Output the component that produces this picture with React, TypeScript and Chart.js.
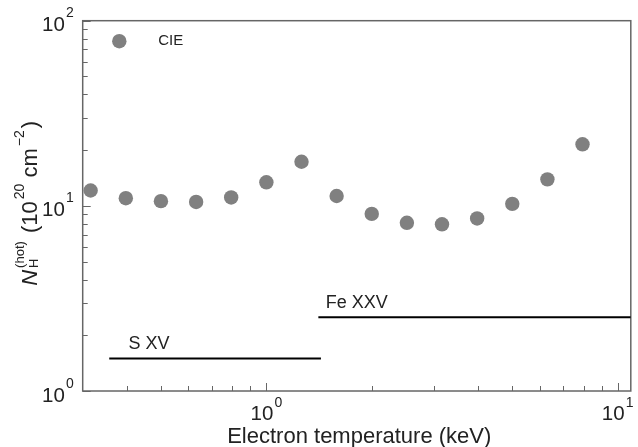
import React, { useEffect, useRef } from "react";
import { Chart, registerables } from "chart.js";

Chart.register(...registerables);

// Electron temperature (keV) of each CIE point
const temperatures = [0.316, 0.398, 0.501, 0.631, 0.794, 1.0, 1.259, 1.585, 1.995, 2.512, 3.162, 3.981, 5.012, 6.31, 7.943];
// N_H(hot) in 10^20 cm^-2
const columnDensities = [12.1, 11.0, 10.6, 10.5, 11.1, 13.4, 17.3, 11.3, 9.05, 8.1, 7.95, 8.55, 10.25, 13.9, 21.5];

// Ion ranges (horizontal bars)
const ionNames = ["S XV", "Fe XXV"];
const ionLevel = [1.5, 2.5];
const ionStart = [0.357, 1.406];
const ionEnd = [1.43, 10.9];
const ionLabelX = [0.405, 1.475];

const xMajorTicks = [1, 10];
const xMinorTicks = [0.4, 0.5, 0.6, 0.7, 0.8, 0.9, 2, 3, 4, 5, 6, 7, 8, 9];
const yMajorTicks = [1, 10, 100];
const yMinorTicks = [2, 3, 4, 5, 6, 7, 8, 9, 20, 30, 40, 50, 60, 70, 80, 90];
const xTickExponents = [0, 1];
const yTickExponents = [0, 1, 2];

const legendLabel = "CIE";
const xTitle = "Electron temperature (keV)";

const FONT = "'Liberation Sans', Arial, Helvetica, sans-serif";
const POINT_COLOR = "#808080";
const AXIS_COLOR = "#666666";
const TEXT_COLOR = "#222222";

function drawPow(ctx: CanvasRenderingContext2D, x: number, baseline: number, exp: string, align: "center" | "right", supRise: number) {
  ctx.font = `20.5px ${FONT}`;
  const wMain = ctx.measureText("10").width;
  ctx.font = `14px ${FONT}`;
  const wSup = ctx.measureText(exp).width;
  const total = wMain + 1 + wSup;
  const left = align === "center" ? x - total / 2 : x - total;
  ctx.textAlign = "left";
  ctx.textBaseline = "alphabetic";
  ctx.font = `20.5px ${FONT}`;
  ctx.fillText("10", left, baseline);
  ctx.font = `14px ${FONT}`;
  ctx.fillText(exp, left + wMain + 1, baseline - supRise);
}

const decorPlugin = {
  id: "decor",
  beforeDatasetsDraw(chart: any) {
    const { ctx, chartArea } = chart;
    const xs = chart.scales.x;
    const ys = chart.scales.y;
    ctx.save();
    ctx.strokeStyle = AXIS_COLOR;
    ctx.lineWidth = 1;
    ctx.beginPath();
    for (const v of xMajorTicks) {
      const px = Math.round(xs.getPixelForValue(v)) + 0.5;
      ctx.moveTo(px, chartArea.bottom);
      ctx.lineTo(px, chartArea.bottom - 8);
    }
    for (const v of xMinorTicks) {
      const px = Math.round(xs.getPixelForValue(v)) + 0.5;
      ctx.moveTo(px, chartArea.bottom);
      ctx.lineTo(px, chartArea.bottom - 5);
    }
    for (const v of yMajorTicks) {
      const py = Math.round(ys.getPixelForValue(v)) + 0.5;
      ctx.moveTo(chartArea.left, py);
      ctx.lineTo(chartArea.left + 8, py);
    }
    for (const v of yMinorTicks) {
      const py = Math.round(ys.getPixelForValue(v)) + 0.5;
      ctx.moveTo(chartArea.left, py);
      ctx.lineTo(chartArea.left + 5, py);
    }
    ctx.stroke();
    ctx.lineWidth = 1.5;
    ctx.strokeRect(chartArea.left, chartArea.top, chartArea.right - chartArea.left, chartArea.bottom - chartArea.top);
    ctx.restore();
  },
  afterDraw(chart: any) {
    const { ctx, chartArea } = chart;
    const xs = chart.scales.x;
    const ys = chart.scales.y;
    ctx.save();
    ctx.fillStyle = TEXT_COLOR;

    // x tick labels
    xMajorTicks.forEach((v, i) => {
      drawPow(ctx, xs.getPixelForValue(v), chartArea.bottom + 28.5, String(xTickExponents[i]), "center", 13);
    });
    // y tick labels
    yMajorTicks.forEach((v, i) => {
      drawPow(ctx, chartArea.left - 9, ys.getPixelForValue(v) + 10.5, String(yTickExponents[i]), "right", 14);
    });

    // x title
    ctx.font = `22px ${FONT}`;
    ctx.textAlign = "center";
    ctx.textBaseline = "alphabetic";
    ctx.fillText(xTitle, (chartArea.left + chartArea.right) / 2 + 2.5, 443);

    // y title (rotated)
    const cy = (chartArea.top + chartArea.bottom) / 2 - 2.5;
    const big = `22px ${FONT}`;
    const bigIt = `italic 22px ${FONT}`;
    const sub = `13px ${FONT}`;
    const sup = `14px ${FONT}`;
    ctx.font = bigIt;
    const wN = ctx.measureText("N").width;
    ctx.font = sub;
    const wH = ctx.measureText("H").width;
    const wHot = ctx.measureText("(hot)").width;
    const wStack = Math.max(wH, wHot);
    ctx.font = big;
    const w1 = ctx.measureText(" (10").width;
    ctx.font = sup;
    const w2 = ctx.measureText("20").width;
    ctx.font = big;
    const w3 = ctx.measureText(" cm").width;
    ctx.font = sup;
    const w4 = ctx.measureText("\u22122").width;
    ctx.font = big;
    const w5 = ctx.measureText(")").width;
    const gap = 2;
    const total = wN + gap + wStack + gap + w1 + gap + w2 + w3 + gap + w4 + gap + w5;
    ctx.translate(37, cy);
    ctx.rotate(-Math.PI / 2);
    ctx.textAlign = "left";
    let x = -total / 2;
    ctx.font = bigIt;
    ctx.fillText("N", x, 0);
    x += wN + gap;
    ctx.font = sub;
    ctx.fillText("H", x, 1);
    ctx.fillText("(hot)", x, -13.5);
    x += wStack + gap;
    ctx.font = big;
    ctx.fillText(" (10", x, 0);
    x += w1 + gap;
    ctx.font = sup;
    ctx.fillText("20", x, -13.5);
    x += w2;
    ctx.font = big;
    ctx.fillText(" cm", x, 0);
    x += w3 + gap;
    ctx.font = sup;
    ctx.fillText("\u22122", x, -13.5);
    x += w4 + gap;
    ctx.font = big;
    ctx.fillText(")", x, 0);
    ctx.restore();

    // legend
    ctx.save();
    ctx.fillStyle = POINT_COLOR;
    ctx.beginPath();
    ctx.arc(chartArea.left + 36.6, chartArea.top + 20.5, 7.2, 0, Math.PI * 2);
    ctx.fill();
    ctx.fillStyle = TEXT_COLOR;
    ctx.font = `15px ${FONT}`;
    ctx.textAlign = "left";
    ctx.textBaseline = "middle";
    ctx.fillText(legendLabel, chartArea.left + 75.5, chartArea.top + 20.5);

    // ion labels
    ctx.font = `18px ${FONT}`;
    ctx.textBaseline = "middle";
    ionNames.forEach((name, i) => {
      ctx.fillText(name, xs.getPixelForValue(ionLabelX[i]), ys.getPixelForValue(ionLevel[i]) - 14.5);
    });
    ctx.restore();
  },
};

export default function App() {
  const canvasRef = useRef<HTMLCanvasElement | null>(null);

  useEffect(() => {
    const canvas = canvasRef.current;
    if (!canvas) return;
    const lineSets = ionNames.map((name, i) => ({
      type: "line" as const,
      label: name,
      data: [
        { x: ionStart[i], y: ionLevel[i] },
        { x: ionEnd[i], y: ionLevel[i] },
      ],
      borderColor: "#000000",
      borderWidth: 2,
      pointRadius: 0,
      showLine: true,
      fill: false,
    }));
    const chart = new Chart(canvas, {
      type: "scatter",
      data: {
        datasets: [
          {
            label: legendLabel,
            data: temperatures.map((t, i) => ({ x: t, y: columnDensities[i] })),
            backgroundColor: POINT_COLOR,
            borderWidth: 0,
            pointRadius: 7.2,
            pointHoverRadius: 7.2,
          },
          ...(lineSets as any[]),
        ],
      },
      options: {
        responsive: false,
        animation: false,
        events: [],
        layout: { padding: { left: 82.7, top: 20.7, right: 2.5, bottom: 56 } },
        plugins: {
          legend: { display: false },
          tooltip: { enabled: false },
        },
        scales: {
          x: { type: "logarithmic", min: 0.3, max: 10.9, display: false },
          y: { type: "logarithmic", min: 1, max: 100, display: false },
        },
      },
      plugins: [decorPlugin],
    });
    return () => chart.destroy();
  }, []);

  return (
    <div style={{ position: "fixed", left: 0, top: 0, width: 638, height: 447, background: "#ffffff" }}>
      <canvas ref={canvasRef} width={638} height={447} style={{ display: "block" }} />
    </div>
  );
}
